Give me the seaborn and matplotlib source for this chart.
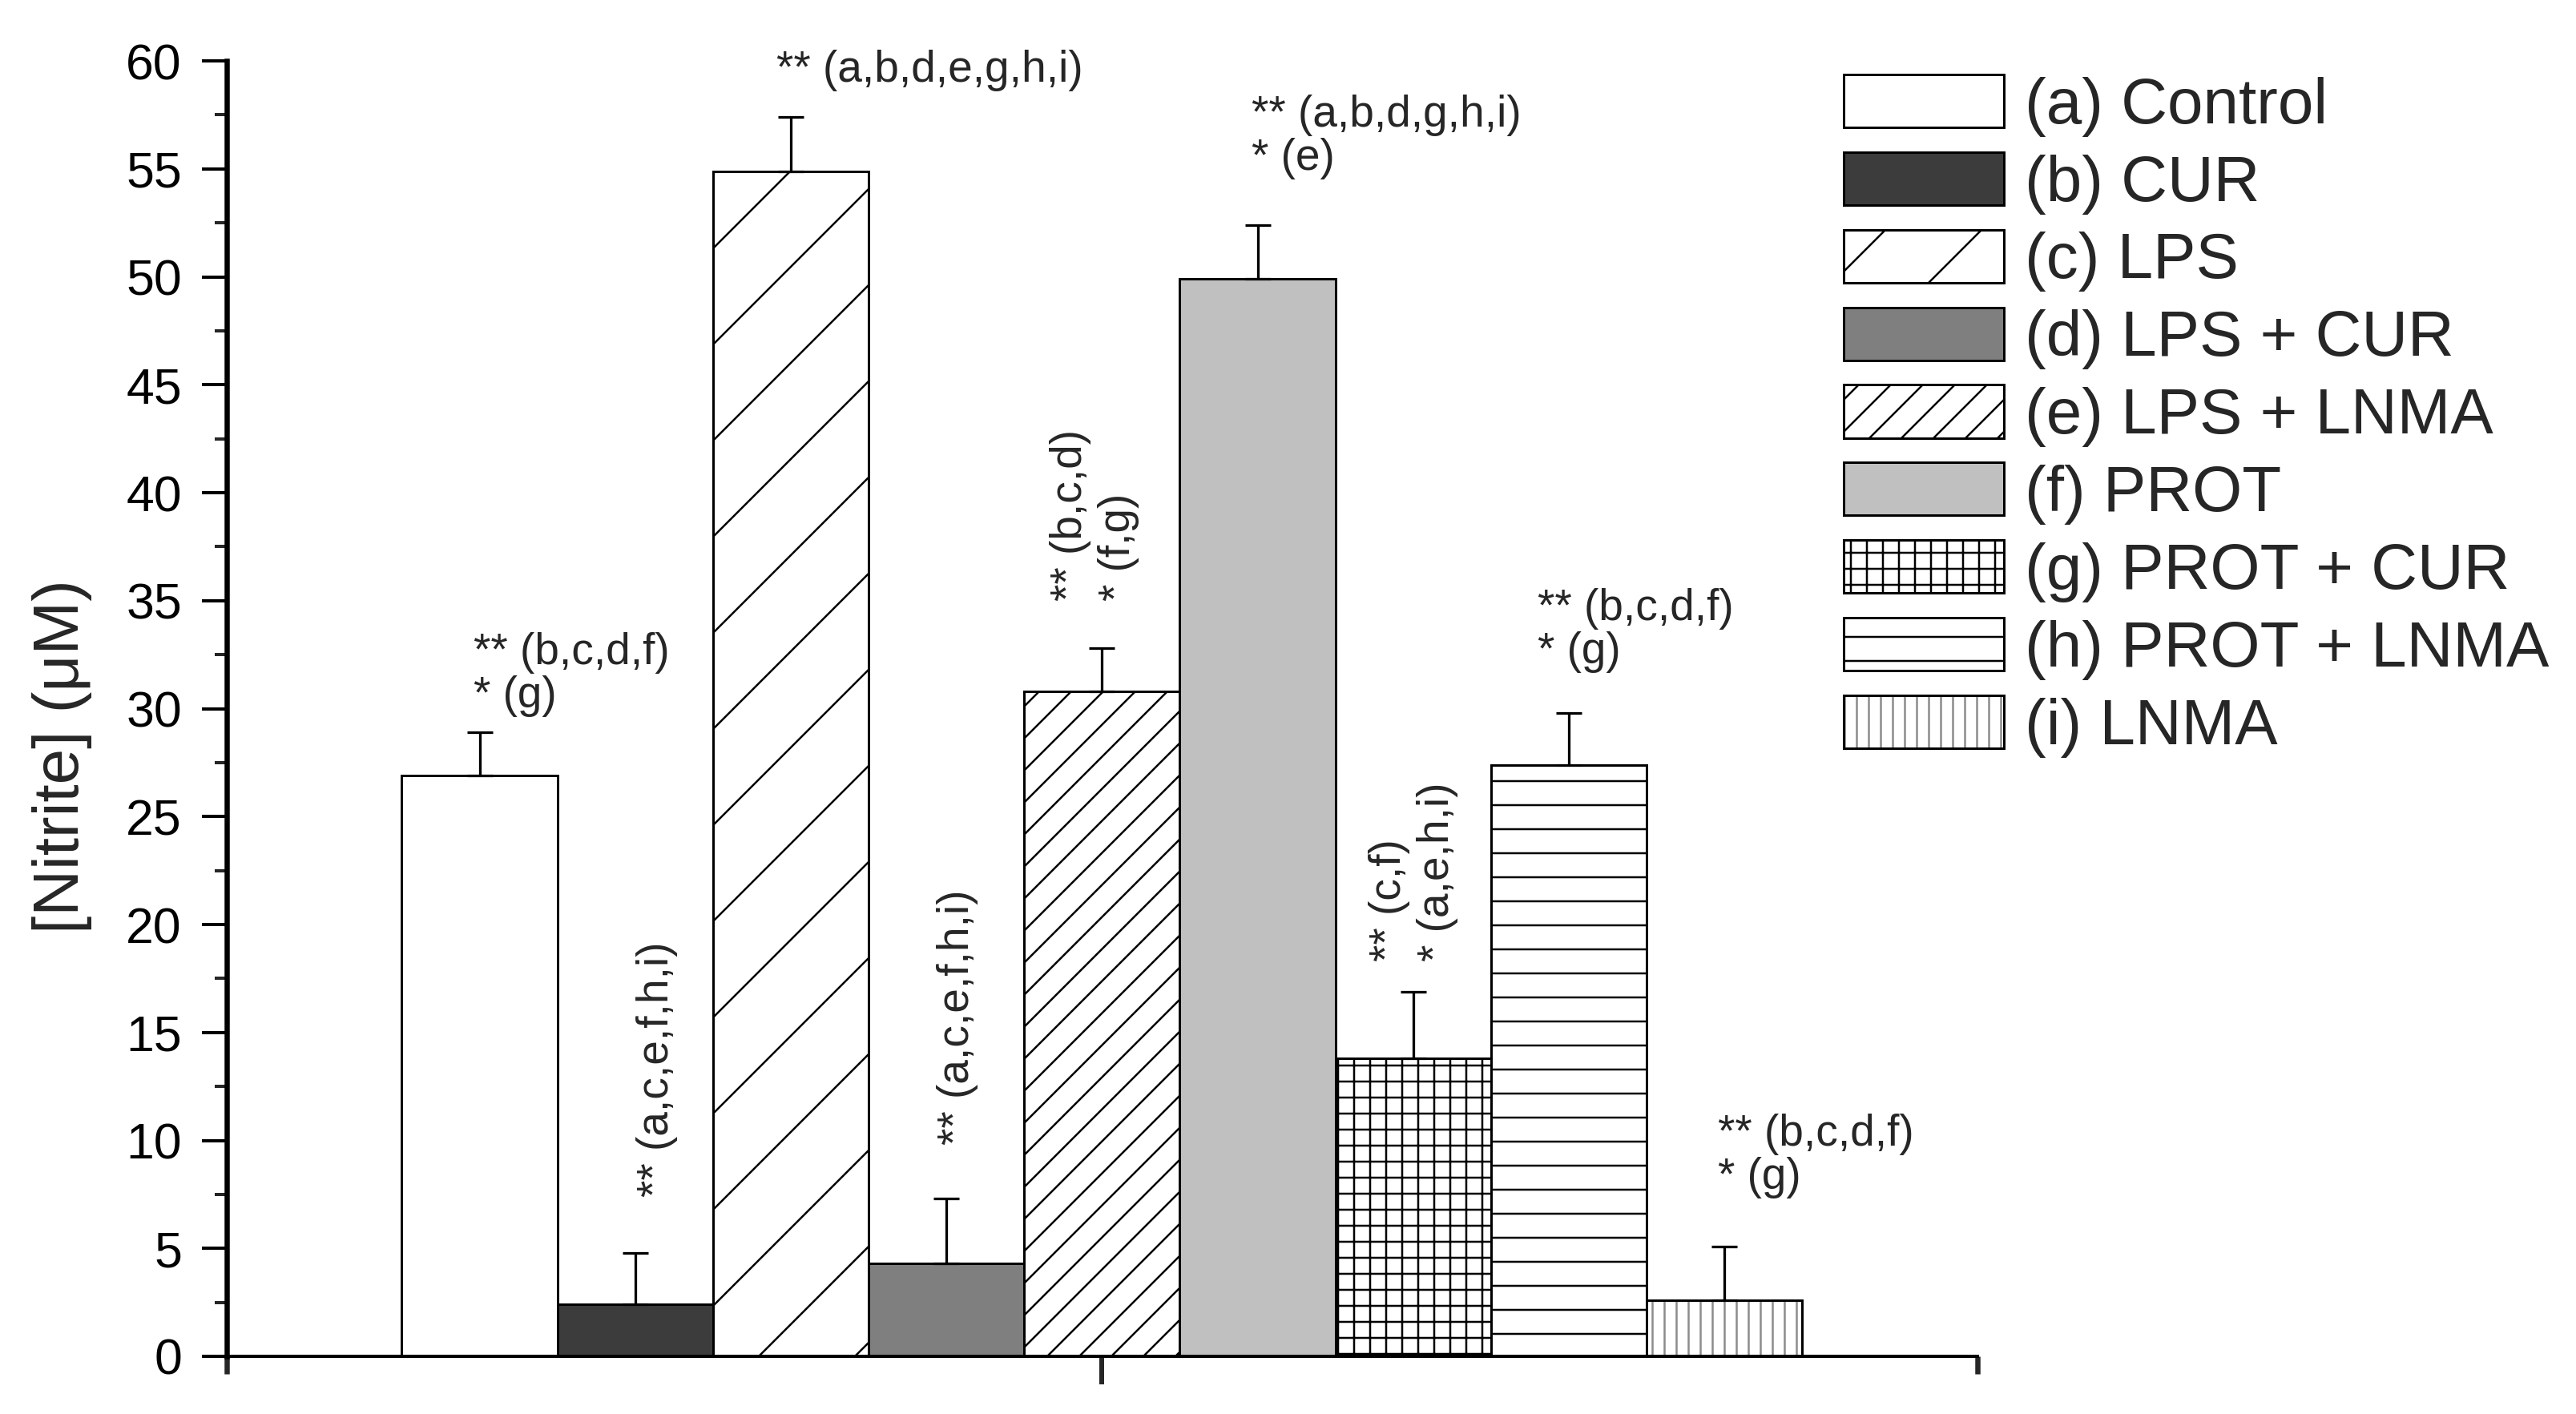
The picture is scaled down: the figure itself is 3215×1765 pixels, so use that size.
import matplotlib
matplotlib.use("Agg")
import matplotlib.pyplot as plt
import matplotlib.colors as mcolors
from matplotlib.ticker import MultipleLocator
import seaborn as sns
import pandas as pd

sns.set_style("ticks")
plt.rcParams['font.family'] = ['Liberation Sans', 'DejaVu Sans']
plt.rcParams['hatch.linewidth'] = 0.5

# data
groups = ['(a) Control', '(b) CUR', '(c) LPS', '(d) LPS + CUR', '(e) LPS + LNMA',
          '(f) PROT', '(g) PROT + CUR', '(h) PROT + LNMA', '(i) LNMA']
means = [26.9, 2.4, 54.9, 4.3, 30.8, 49.9, 13.8, 27.4, 2.6]
errs = [2.0, 2.4, 2.5, 3.0, 2.0, 2.5, 3.1, 2.4, 2.5]
notes = ['** (b,c,d,f)\n* (g)', '** (a,c,e,f,h,i)', '** (a,b,d,e,g,h,i)',
         '** (a,c,e,f,h,i)', '** (b,c,d)\n* (f,g)', '** (a,b,d,g,h,i)\n* (e)',
         '** (c,f)\n* (a,e,h,i)', '** (b,c,d,f)\n* (g)', '** (b,c,d,f)\n* (g)']

# styling
fills = ['white', '#3c3c3c', 'white', '#7f7f7f', 'white', '#c0c0c0', 'white', 'white', 'white']
hatches = ['', '', '/', '', '///', '', '+++', '--', '||||']
# note layout: rotated?, x shift (bar widths), y gap above error bar
note_rot = [False, True, False, True, True, False, True, False, False]
note_dx = [-0.04, 0.14, -0.09, 0.07, -0.05, -0.04, 0.0, -0.2, -0.04]
note_dy = [0.7, 2.6, 1.2, 2.5, 2.2, 2.1, 1.4, 1.85, 2.2]

df = pd.DataFrame({'grp': [''] * len(groups), 'group': groups, 'value': means})

fig = plt.figure(figsize=(3215 / 360, 1765 / 360), dpi=360)
ax = fig.add_axes([0.0880, 0.0408, 0.6796, 0.9161])

sns.barplot(data=df, x='grp', y='value', hue='group', hue_order=groups,
            palette=dict(zip(groups, fills)), saturation=1, errorbar=None,
            width=0.8, gap=0, edgecolor='black', linewidth=0.6, legend=False, ax=ax)

bars = []
for cont, h in zip(ax.containers, hatches):
    for p in cont:
        p.set_hatch(h)
        bars.append(p)
# LNMA hatch lines are grey in the original
bars[8]._hatch_color = mcolors.to_rgba('0.55')

centers = [p.get_x() + p.get_width() / 2 for p in bars]
bw = bars[0].get_width()

ax.errorbar(centers, means, yerr=[[0] * len(errs), errs], fmt='none',
            ecolor='black', elinewidth=0.65, capsize=3.2, capthick=0.65, zorder=3)

for i, txt in enumerate(notes):
    x = centers[i] + note_dx[i] * bw
    y = means[i] + errs[i] + note_dy[i]
    if note_rot[i]:
        ax.text(x, y, txt, rotation=90, ha='center', va='bottom',
                multialignment='left', fontsize=11, linespacing=1.2)
    else:
        ax.text(x, y, txt, ha='left', va='bottom', fontsize=11, linespacing=1.05)

ax.set_xlim(-0.5, 0.5)
ax.set_ylim(0, 60)
ax.set_xticks([0])
ax.set_xticklabels([])
ax.set_xticks([-0.5, 0.5], minor=True)
ax.set_xlabel('')
ax.yaxis.set_major_locator(MultipleLocator(5))
ax.yaxis.set_minor_locator(MultipleLocator(2.5))
ax.tick_params(axis='y', which='major', length=6.2, width=0.8, pad=5, labelsize=12.5, direction='out', colors='black')
ax.tick_params(axis='y', which='minor', length=3, width=0.8, direction='out')
ax.tick_params(axis='x', which='major', length=7, width=1.2, direction='out')
ax.tick_params(axis='x', which='minor', length=4.4, width=1.3, direction='out')

ax.set_ylabel('[Nitrite] (μM)', fontsize=16)
ax.yaxis.set_label_coords(-0.0769, 0.463)

sns.despine(ax=ax)
ax.spines['left'].set_linewidth(1.3)
ax.spines['bottom'].set_linewidth(0.8)
ax.spines['left'].set_color('black')
ax.spines['bottom'].set_color('black')

ax.legend(handles=bars, labels=groups, loc='upper left',
          bbox_to_anchor=(0.7157, 0.9473), bbox_transform=fig.transFigure,
          frameon=False, fontsize=16, handlelength=2.5, handleheight=0.894,
          handletextpad=0.325, labelspacing=0.24, borderpad=0, borderaxespad=0)

fig.savefig('out.png', dpi=360)
